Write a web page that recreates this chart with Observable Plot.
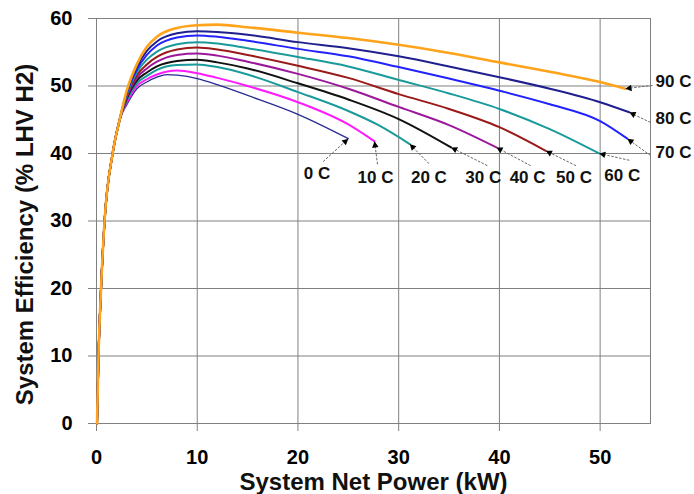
<!DOCTYPE html>
<html><head><meta charset="utf-8">
<script src="https://cdn.jsdelivr.net/npm/d3@7"></script>
<script src="https://cdn.jsdelivr.net/npm/@observablehq/plot@0.6"></script>
<style>
html,body{margin:0;padding:0;background:#fff;}
#chart{width:694px;height:494px;}
</style></head><body><div id="chart"></div>
<script>
// ---- data ----
const temps = ["0 C","10 C","20 C","30 C","40 C","50 C","60 C","70 C","80 C","90 C"];
const curve0  = [[0.05,0],[0.2,10],[0.45,20],[0.8,30],[1.6,40],[2.3,45],[3,47.2],[4,49.6],[5,50.6],[6,51.3],[7,51.7],[8,51.6],[10,51.1],[12,50.2],[15,48.6],[20,45.8],[25,42.2]];
const curve10 = [[0.05,0],[0.2,10],[0.45,20],[0.8,30],[1.6,40],[2.3,45],[3,47.5],[4,50.0],[5,51.0],[6,51.7],[8,52.3],[10,51.9],[12,51.2],[15,50.0],[20,47.6],[25,44.3],[27.6,41.8]];
const curve20 = [[0.05,0],[0.2,10],[0.45,20],[0.8,30],[1.6,40],[2.3,45],[3,47.8],[4,50.4],[5,51.5],[6,52.4],[8,53.1],[10,53.2],[12,52.8],[15,51.7],[20,49.1],[25,46.3],[28,44.2],[31.1,41.4]];
const curve30 = [[0.05,0],[0.2,10],[0.45,20],[0.8,30],[1.6,40],[2.3,45],[3,48.1],[4,50.8],[5,52.0],[6,52.9],[8,53.7],[10,53.9],[12,53.5],[15,52.6],[20,50.4],[25,48.0],[30,45.1],[35.2,40.9]];
const curve40 = [[0.05,0],[0.2,10],[0.45,20],[0.8,30],[1.6,40],[2.3,45],[3,48.3],[4,51.2],[5,52.6],[6,53.6],[8,54.6],[10,54.8],[12,54.5],[15,53.6],[20,51.8],[25,49.6],[30,46.9],[35,44.2],[39.7,40.9]];
const curve50 = [[0.05,0],[0.2,10],[0.45,20],[0.8,30],[1.6,40],[2.3,45],[3,48.5],[4,51.6],[5,53.2],[6,54.3],[8,55.4],[10,55.7],[12,55.4],[15,54.6],[20,53.0],[25,51.2],[30,48.8],[35,46.6],[40,43.9],[44.6,40.4]];
const curve60 = [[0.05,0],[0.2,10],[0.45,20],[0.8,30],[1.6,40],[2.3,45],[3,48.7],[4,52.0],[5,53.9],[6,55.1],[8,56.2],[10,56.5],[12,56.3],[15,55.6],[20,54.3],[25,52.9],[30,50.9],[35,48.9],[40,46.6],[45,43.6],[49.9,40.0]];
const curve70 = [[0.05,0],[0.2,10],[0.45,20],[0.8,30],[1.6,40],[2.3,45],[3,48.9],[4,52.4],[5,54.6],[6,56.0],[8,57.2],[10,57.5],[12,57.3],[15,56.7],[20,55.5],[25,54.4],[30,52.8],[35,51.1],[40,49.3],[45,47.3],[50,44.8],[52.7,42.2]];
const curve80 = [[0.05,0],[0.2,10],[0.45,20],[0.8,30],[1.6,40],[2.3,45],[3,49.1],[4,52.8],[5,55.2],[6,56.6],[8,57.8],[10,58.1],[12,58.0],[15,57.6],[20,56.5],[25,55.6],[30,54.4],[35,52.9],[40,51.3],[45,49.6],[50,47.6],[52.9,46.1]];
const curve90 = [[0.05,0],[0.2,10],[0.45,20],[0.8,30],[1.6,40],[2.3,45],[3,49.3],[4,53.2],[5,55.8],[6,57.3],[8,58.6],[10,59.0],[12,59.1],[15,58.7],[20,57.9],[25,57.1],[30,56.1],[35,54.9],[40,53.5],[45,52.1],[50,50.6],[52.5,49.6]];

// label annotation anchors (data units)
const labelX  = [21.9, 27.7, 33.0, 38.4, 42.8, 47.4, 52.2, 55.5, 55.5, 55.5];
const labelY  = [37.1, 36.4, 36.5, 36.5, 36.5, 36.5, 36.8, 40.1, 45.2, 50.6];
const leaderX = [22.5, 27.9, 33.0, 38.8, 43.1, 47.6, 52.9, 55.0, 55.0, 55.2];
const leaderY = [38.8, 38.4, 38.5, 38.2, 38.2, 38.2, 39.0, 39.7, 44.6, 50.1];

const xTicks = [0, 10, 20, 30, 40, 50];
const yTicks = [0, 10, 20, 30, 40, 50, 60];
const xTitle = "System Net Power (kW)";
const yTitle = "System Efficiency (% LHV H2)";

// ---- styles ----
const seriesColors = ["#2a2a92","#ff1aff","#1a9a9a","#111111","#9b189b","#9a1a1a","#1a9a9a","#2222ff","#1f1f8f","#ffa31a"];
const seriesWidths = [1.3, 2, 2, 2, 2, 2, 2, 2, 2, 2.6];
const gridColor = "#808080";
const font = "'Liberation Sans', Arial, Helvetica, sans-serif";

const curves = [curve0, curve10, curve20, curve30, curve40, curve50, curve60, curve70, curve80, curve90];
const ends = curves.map((c, i) => ({
  temp: temps[i], x: c[c.length - 1][0], y: c[c.length - 1][1],
  lx: leaderX[i], ly: leaderY[i], tx: labelX[i], ty: labelY[i]
}));

const lineMarks = curves.map((c, i) => Plot.line(c.map(([x, y]) => ({x, y})), {
  x: "x", y: "y", stroke: seriesColors[i], strokeWidth: seriesWidths[i], curve: "monotone-x"
}));

const chart = Plot.plot({
  width: 694, height: 494,
  marginLeft: 96, marginRight: 44, marginTop: 18, marginBottom: 71,
  style: {fontFamily: font, color: "black", background: "white", overflow: "visible"},
  x: {domain: [0, 55], label: null},
  y: {domain: [0, 60], label: null},
  marks: [
    Plot.gridX(xTicks, {stroke: gridColor, strokeOpacity: 1, strokeWidth: 1}),
    Plot.gridY(yTicks, {stroke: gridColor, strokeOpacity: 1, strokeWidth: 1}),
    Plot.frame({stroke: gridColor, strokeWidth: 1}),
    Plot.axisX(xTicks, {tickSize: 8, tickPadding: 18, stroke: gridColor, fontSize: 20, fontWeight: "bold", label: null}),
    Plot.axisY(yTicks, {tickSize: 8, tickPadding: 16, stroke: gridColor, fontSize: 20, fontWeight: "bold", label: null}),
    ...lineMarks,
    Plot.link(ends, {x1: "lx", y1: "ly", x2: "x", y2: "y", stroke: "#666", strokeWidth: 1, strokeDasharray: "2.5,1.5"}),
    Plot.arrow(ends, {x1: "lx", y1: "ly", x2: "x", y2: "y", stroke: "none", fill: "black", strokeWidth: 1.5, headLength: 7, headAngle: 55}),
    Plot.text(ends.slice(0, 7), {x: "tx", y: "ty", text: "temp", fontSize: 17, fontWeight: "bold", textAnchor: "middle", fill: "#111"}),
    Plot.text(ends.slice(7), {x: "tx", y: "ty", text: "temp", fontSize: 17, fontWeight: "bold", textAnchor: "start", fill: "#111"}),
    Plot.text([xTitle], {text: d => d, frameAnchor: "bottom", textAnchor: "middle", lineAnchor: "middle", dy: 59, fontSize: 24, fontWeight: "bold", fill: "#111"}),
    Plot.text([yTitle], {text: d => d, frameAnchor: "left", textAnchor: "middle", lineAnchor: "middle", rotate: -90, dx: -71, dy: 13.5, fontSize: 24, fontWeight: "bold", fill: "#111"})
  ]
});
document.getElementById("chart").appendChild(chart);
</script></body></html>
